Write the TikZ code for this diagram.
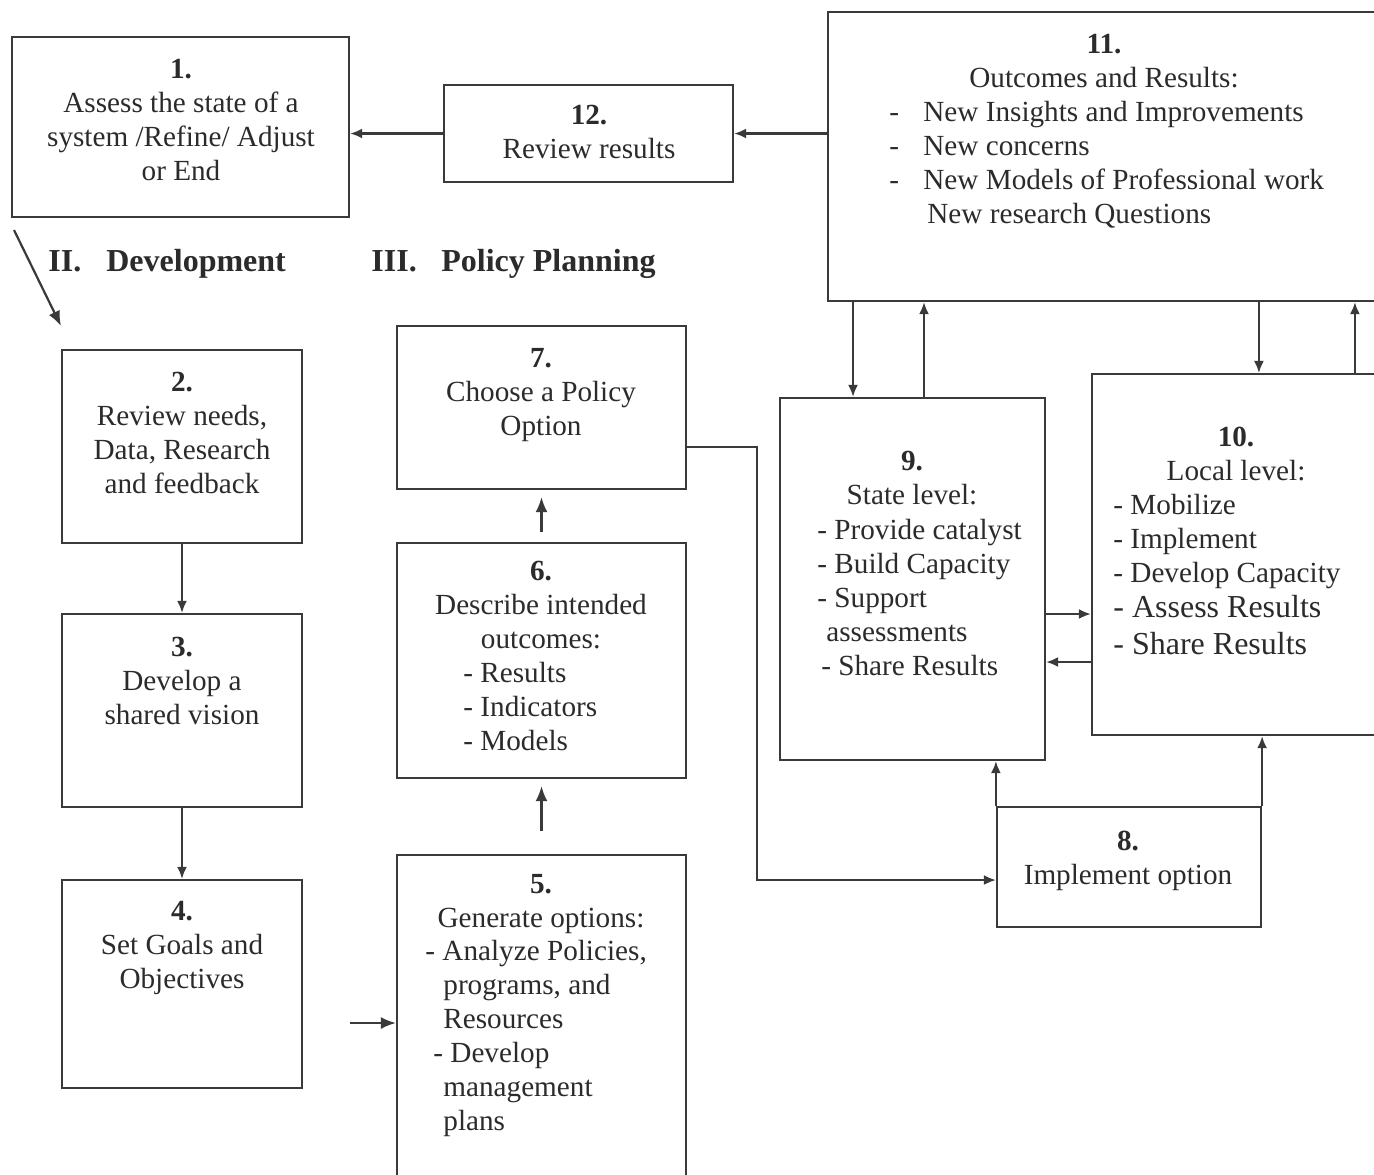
\documentclass[tikz,border=0pt]{standalone}
\usepackage{fontspec}
\setmainfont{Liberation Serif}
\usetikzlibrary{arrows.meta,fit,calc}
\definecolor{ink}{HTML}{2B2B2B}
\definecolor{rule}{HTML}{3A3A3A}
\begin{document}
\begin{tikzpicture}[x=0.5pt,y=-0.5pt,
  box/.style={draw=rule,line width=1.1pt,inner sep=0pt,rectangle},
  txt/.style={text=ink,font=\fontsize{14.6}{17}\selectfont,inner sep=0pt,anchor=base},
  ctxt/.style={txt,align=center},
  ltxt/.style={txt,align=left,anchor=base west},
  head/.style={text=ink,font=\fontsize{16}{19}\bfseries\selectfont,inner sep=0pt,anchor=base west},
  link/.style={draw=rule,line width=1.1pt,-{Latex[length=6pt,width=5pt]}},
  bigl/.style={draw=rule,line width=1.1pt,-{Latex[length=7.5pt,width=6pt]}},
]
\useasboundingbox (0,0) rectangle (1374,1174);
\clip (0,0) rectangle (1374,1174);
\fill[white] (0,0) rectangle (1374,1174);

% boxes
\node[box,fit={(12,37) (349,217)}]    (b1)  {};
\node[box,fit={(444,85) (733,182)}]   (b12) {};
\node[box,fit={(828,12) (1400,301)}]  (b11) {};
\node[box,fit={(62,350) (302,543)}]   (b2)  {};
\node[box,fit={(62,614) (302,807)}]   (b3)  {};
\node[box,fit={(62,880) (302,1088)}]  (b4)  {};
\node[box,fit={(397,326) (686,489)}]  (b7)  {};
\node[box,fit={(397,543) (686,778)}]  (b6)  {};
\node[box,fit={(397,855) (686,1200)}] (b5)  {};
\node[box,fit={(780,398) (1045,760)}] (b9)  {};
\node[box,fit={(1092,374) (1400,735)}] (b10) {};
\node[box,fit={(997,807) (1261,927)}] (b8)  {};

% section headings
\node[head] (hII)  at (48,271)  {\makebox[29pt][l]{II.}Development};
\node[head] (hIII) at (371,271) {\makebox[35pt][l]{III.}Policy Planning};

% box texts (anchored at the baseline of their last line)
\node[ctxt] (t1) at (181,180) {\textbf{1.}\\Assess the state of a\\system /Refine/ Adjust\\or End};
\node[ctxt] (t12) at (589,158) {\textbf{12.}\\Review results};
\node[ctxt] (t11) at (1104,87) {\textbf{11.}\\Outcomes and Results:};
\node[ltxt] (l11) at (889,223) {\makebox[17pt][l]{-}New Insights and Improvements\\
  \makebox[17pt][l]{-}New concerns\\
  \makebox[17pt][l]{-}New Models of Professional work\\
  \hspace*{19pt}New research Questions};
\node[ctxt] (t2) at (182,493) {\textbf{2.}\\Review needs,\\Data, Research\\and feedback};
\node[ctxt] (t3) at (182,724) {\textbf{3.}\\Develop a\\shared vision};
\node[ctxt] (t4) at (182,988) {\textbf{4.}\\Set Goals and\\Objectives};
\node[ctxt] (t7) at (541,435) {\textbf{7.}\\Choose a Policy\\Option};
\node[ctxt] (t6) at (541,648) {\textbf{6.}\\Describe intended\\outcomes:};
\node[ltxt] (l6) at (463,750) {- Results\\- Indicators\\- Models};
\node[ctxt] (t5) at (541,927) {\textbf{5.}\\Generate options:};
\node[ltxt] (l5) at (425,1130) {- Analyze Policies,\\
  \hspace*{9pt}programs, and\\
  \hspace*{9pt}Resources\\
  \hspace*{4pt}- Develop\\
  \hspace*{9pt}management\\
  \hspace*{9pt}plans};
\node[ctxt] (t9) at (912,504) {\textbf{9.}\\State level:};
\node[ltxt] (l9) at (817,675) {- Provide catalyst\\- Build Capacity\\- Support\\
  \hspace*{4.5pt}assessments\\
  \hspace*{2pt}- Share Results};
\node[ctxt] (t10) at (1236,480) {\textbf{10.}\\Local level:};
\node[ltxt] (l10a) at (1113,582) {- Mobilize\\- Implement\\- Develop Capacity};
\node[ltxt,font=\fontsize{16}{18.5}\selectfont] (l10b) at (1113,654) {- Assess Results\\- Share Results};
\node[ctxt] (t8) at (1128,884) {\textbf{8.}\\Implement option};

% connectors
\draw[link] (b11.west |- b12.east) -- (b12.east);
\draw[link] (b12.west) -- (b12.west -| b1.east);

\coordinate (d0) at (14,230);
\coordinate (d1) at (61,326);
\draw[bigl] (d0) -- (d1);

\draw[link] (b2.south) -- (b3.north);
\draw[link] (b3.south) -- (b4.north);

\coordinate (e0) at (350,1023);
\draw[bigl] (e0) -- (e0 -| b5.west);

\draw[bigl] ($(b5.north)+(0,-23)$) -- ($(b6.south)+(0,7)$);
\draw[bigl] ($(b6.north)+(0,-10)$) -- ($(b7.south)+(0,7)$);

\coordinate (bend) at (757,880);
\draw[link] ([yshift=-19.75pt]b7.east) -| (bend) -- (bend -| b8.west);

\draw[link] ([xshift=-29.75pt]b9.north |- b11.south) -- ([xshift=-29.75pt]b9.north);
\draw[link] ([xshift=5.75pt]b9.north) -- ([xshift=5.75pt]b9.north |- b11.south);

\draw[link] ([xshift=84pt]b10.north west |- b11.south) -- ([xshift=84pt]b10.north west);
\draw[link] ([xshift=132pt]b10.north west) -- ([xshift=132pt]b10.north west |- b11.south);

\draw[link] ([yshift=-17.5pt]b9.east) -- ([yshift=-17.5pt]b9.east -| b10.west);
\draw[link] ([yshift=-41.5pt]b9.east -| b10.west) -- ([yshift=-41.5pt]b9.east);

\draw[link] (b8.north west) -- (b8.north west |- b9.south);
\draw[link] (b8.north east) -- (b8.north east |- b10.south);
\end{tikzpicture}
\end{document}
